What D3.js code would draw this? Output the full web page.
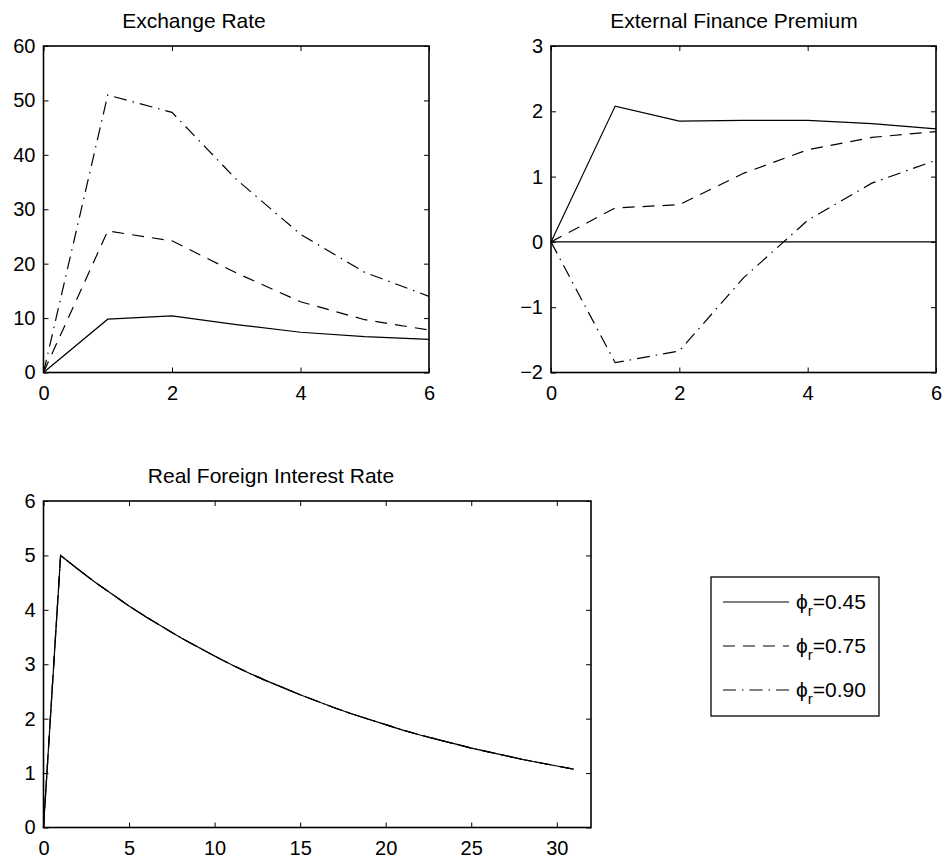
<!DOCTYPE html>
<html><head><meta charset="utf-8">
<script src="https://cdn.jsdelivr.net/npm/d3@7"></script>
<style>
body{margin:0;background:#fff;}
svg{display:block;font-family:"Liberation Sans",Arial,Helvetica,sans-serif;}
</style></head><body>
<svg id="chart" width="945" height="861"></svg>
<script>
// ---------- data ----------
const periods = [0, 1, 2, 3, 4, 5, 6];
const exchangeRate045 = [0, 9.8, 10.4, 8.8, 7.4, 6.6, 6.1];
const exchangeRate075 = [0, 26.0, 24.2, 18.3, 13.0, 9.7, 7.8];
const exchangeRate090 = [0, 51.0, 47.8, 35.5, 25.4, 18.4, 14.0];
const premium045 = [0, 2.08, 1.85, 1.86, 1.86, 1.81, 1.73];
const premium075 = [0, 0.52, 0.57, 1.05, 1.41, 1.60, 1.69];
const premium090 = [0, -1.85, -1.67, -0.55, 0.33, 0.90, 1.25];
const foreignPeriods = [0,1,2,3,4,5,6,7,8,9,10,11,12,13,14,15,16,17,18,19,20,21,22,23,24,25,26,27,28,29,30,31];
const foreignRate = [0, 5.00, 4.75, 4.51, 4.29, 4.07, 3.87, 3.68, 3.49, 3.32, 3.15, 2.99, 2.84, 2.70, 2.57, 2.44,
                     2.32, 2.20, 2.09, 1.99, 1.89, 1.79, 1.70, 1.62, 1.54, 1.46, 1.39, 1.32, 1.25, 1.19, 1.13, 1.07];
const seriesLabels = ["0.45", "0.75", "0.90"];
const exchangeXTicks = [0, 2, 4, 6];
const exchangeYTicks = [0, 10, 20, 30, 40, 50, 60];
const premiumYTicks = [-2, -1, 0, 1, 2, 3];
const foreignXTicks = [0, 5, 10, 15, 20, 25, 30];
const foreignYTicks = [0, 1, 2, 3, 4, 5, 6];

// ---------- styles ----------
const dashes = [null, "12,8", "13,6,1.5,6"];
const TICK_FONT = 20, TITLE_FONT = 21;

const svg = d3.select("#chart");
const fmt = d => (d < 0 ? "\u2212" + Math.abs(d) : String(d));

function panel(opt) {
  const x = d3.scaleLinear().domain(opt.xDomain).range([opt.x0, opt.x1]);
  const y = d3.scaleLinear().domain(opt.yDomain).range([opt.y1, opt.y0]);
  const g = svg.append("g");

  const styleAxis = sel => {
    sel.select(".domain").remove();
    sel.selectAll("line").attr("stroke", "#000").attr("stroke-width", 1);
    sel.selectAll("text").attr("fill", "#000").attr("font-size", TICK_FONT)
       .attr("font-family", '"Liberation Sans",Arial,sans-serif');
  };
  g.append("g").attr("transform", `translate(0,${opt.y1})`)
    .call(d3.axisBottom(x).tickValues(opt.xTicks).tickSizeInner(-5).tickSizeOuter(0).tickPadding(13).tickFormat(fmt))
    .call(styleAxis);
  g.append("g").attr("transform", `translate(${opt.x0},0)`)
    .call(d3.axisLeft(y).tickValues(opt.yTicks).tickSizeInner(-5).tickSizeOuter(0).tickPadding(8).tickFormat(fmt))
    .call(styleAxis);
  g.append("g").attr("transform", `translate(0,${opt.y0})`)
    .call(d3.axisTop(x).tickValues(opt.xTicks).tickSizeInner(-5).tickSizeOuter(0).tickFormat(""))
    .call(styleAxis);
  g.append("g").attr("transform", `translate(${opt.x1},0)`)
    .call(d3.axisRight(y).tickValues(opt.yTicks).tickSizeInner(-5).tickSizeOuter(0).tickFormat(""))
    .call(styleAxis);

  if (opt.zeroLine) {
    g.append("line").attr("x1", x(opt.xDomain[0])).attr("x2", x(opt.xDomain[1]))
      .attr("y1", y(0)).attr("y2", y(0)).attr("stroke", "#000").attr("stroke-width", 1.2);
  }

  const line = d3.line().x(d => x(d[0])).y(d => y(d[1]));
  for (let i = opt.series.length - 1; i >= 0; i--) {
    const vals = opt.series[i];
    const pts = opt.xs.map((xv, k) => [xv, vals[k]]);
    g.append("path").attr("d", line(pts)).attr("fill", "none")
      .attr("stroke", "#000").attr("stroke-width", 1.2)
      .attr("stroke-dasharray", dashes[i]);
  }

  g.append("rect").attr("x", opt.x0).attr("y", opt.y0)
    .attr("width", opt.x1 - opt.x0).attr("height", opt.y1 - opt.y0)
    .attr("fill", "none").attr("stroke", "#000").attr("stroke-width", 1.6);

  g.append("text").attr("x", opt.titleX).attr("y", opt.titleY)
    .attr("text-anchor", "middle").attr("font-size", TITLE_FONT).attr("fill", "#000")
    .text(opt.title);
}

panel({
  x0: 43.5, x1: 429, y0: 46, y1: 372.5,
  xDomain: [0, 6], yDomain: [0, 60], xTicks: exchangeXTicks, yTicks: exchangeYTicks,
  xs: periods, series: [exchangeRate045, exchangeRate075, exchangeRate090],
  title: "Exchange Rate", titleX: 194, titleY: 28
});
panel({
  x0: 551, x1: 936, y0: 46, y1: 372.5,
  xDomain: [0, 6], yDomain: [-2, 3], xTicks: exchangeXTicks, yTicks: premiumYTicks,
  xs: periods, series: [premium045, premium075, premium090], zeroLine: true,
  title: "External Finance Premium", titleX: 734, titleY: 28
});
panel({
  x0: 43.5, x1: 591, y0: 501, y1: 827.5,
  xDomain: [0, 32], yDomain: [0, 6], xTicks: foreignXTicks, yTicks: foreignYTicks,
  xs: foreignPeriods, series: [foreignRate, foreignRate, foreignRate],
  title: "Real Foreign Interest Rate", titleX: 271, titleY: 483
});

// ---------- legend ----------
const legend = svg.append("g");
legend.append("rect").attr("x", 711).attr("y", 577).attr("width", 168).attr("height", 139)
  .attr("fill", "#fff").attr("stroke", "#000").attr("stroke-width", 1.3);
const rowY = d3.scalePoint().domain(seriesLabels).range([602, 690]);
seriesLabels.forEach((lab, i) => {
  const yy = rowY(lab);
  legend.append("line").attr("x1", 723).attr("x2", 789).attr("y1", yy).attr("y2", yy)
    .attr("stroke", "#000").attr("stroke-width", 1.2).attr("stroke-dasharray", dashes[i]);
  const t = legend.append("text").attr("x", 796).attr("y", yy + 7).attr("font-size", 21).attr("fill", "#000");
  t.append("tspan").text("\u03D5");
  t.append("tspan").attr("dy", 7).attr("font-size", 15).text("r");
  t.append("tspan").attr("dy", -7).text("=" + lab);
});
</script>
</body></html>
